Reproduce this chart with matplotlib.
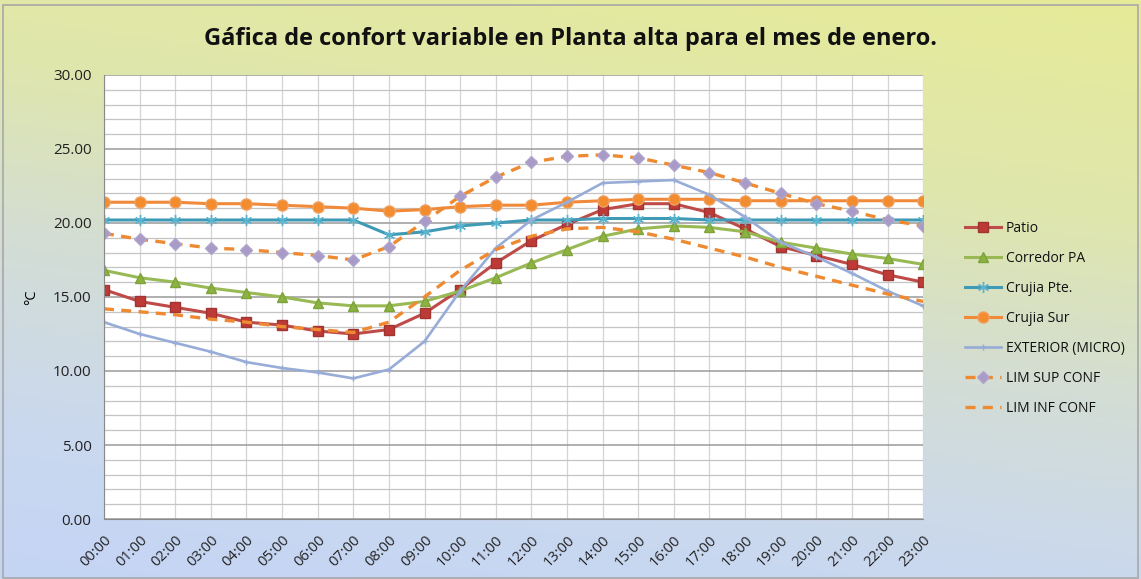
import numpy as np
import matplotlib
matplotlib.use("Agg")
import matplotlib.pyplot as plt
from matplotlib.colors import LinearSegmentedColormap
from matplotlib.patches import Rectangle

horas = ["00:00", "01:00", "02:00", "03:00", "04:00", "05:00", "06:00", "07:00",
         "08:00", "09:00", "10:00", "11:00", "12:00", "13:00", "14:00", "15:00",
         "16:00", "17:00", "18:00", "19:00", "20:00", "21:00", "22:00", "23:00"]

patio = [15.5, 14.7, 14.3, 13.9, 13.3, 13.1, 12.7, 12.5, 12.8, 13.9, 15.5, 17.3,
         18.8, 19.9, 20.9, 21.3, 21.3, 20.7, 19.6, 18.4, 17.8, 17.2, 16.5, 16.0]
corredor_pa = [16.8, 16.3, 16.0, 15.6, 15.3, 15.0, 14.6, 14.4, 14.4, 14.7, 15.4, 16.3,
               17.3, 18.2, 19.1, 19.6, 19.8, 19.7, 19.4, 18.7, 18.3, 17.9, 17.6, 17.2]
crujia_pte = [20.2, 20.2, 20.2, 20.2, 20.2, 20.2, 20.2, 20.2, 19.2, 19.4, 19.8, 20.0,
              20.2, 20.2, 20.3, 20.3, 20.3, 20.2, 20.2, 20.2, 20.2, 20.2, 20.2, 20.2]
crujia_sur = [21.4, 21.4, 21.4, 21.3, 21.3, 21.2, 21.1, 21.0, 20.8, 20.9, 21.1, 21.2,
              21.2, 21.4, 21.5, 21.6, 21.6, 21.6, 21.5, 21.5, 21.5, 21.5, 21.5, 21.5]
exterior = [13.3, 12.5, 11.9, 11.3, 10.6, 10.2, 9.9, 9.5, 10.1, 12.0, 15.4, 18.3,
            20.2, 21.4, 22.7, 22.8, 22.9, 21.9, 20.4, 18.7, 17.7, 16.6, 15.4, 14.4]
lim_sup = [19.3, 18.9, 18.6, 18.3, 18.2, 18.0, 17.8, 17.5, 18.4, 20.1, 21.8, 23.1,
           24.1, 24.5, 24.6, 24.4, 23.9, 23.4, 22.7, 22.0, 21.3, 20.8, 20.2, 19.8]
lim_inf = [14.2, 14.0, 13.8, 13.5, 13.3, 13.0, 12.8, 12.6, 13.3, 15.0, 16.8, 18.2,
           19.1, 19.6, 19.7, 19.4, 18.9, 18.3, 17.7, 17.0, 16.4, 15.8, 15.2, 14.7]

plt.rcParams['font.family'] = ['Open Sans', 'DejaVu Sans']

fig = plt.figure(figsize=(11.41, 5.79), dpi=100)

# fondo degradado (amarillo arriba, azul abajo)
bg = fig.add_axes([0, 0, 1, 1], zorder=-10)
gy, gx = np.mgrid[0:1:200j, 0:1:200j]
grad = 0.78 * gy + 0.22 * (1 - gx)
cmap = LinearSegmentedColormap.from_list(
    "fondo", [(0.0, "#e6eb98"), (0.3, "#dfe6ad"), (0.55, "#d3ddd6"), (0.8, "#cad8ef"), (1.0, "#c4d5f5")])
bg.imshow(grad, cmap=cmap, aspect='auto', extent=[0, 1, 1, 0], vmin=0, vmax=1)
bg.set_xlim(0, 1)
bg.set_ylim(1, 0)
bg.axis('off')
fig.patches.append(Rectangle((0.003, 0.002), 0.994, 0.99, transform=fig.transFigure,
                             fill=False, edgecolor="#a8a8a8", linewidth=1.2))

ax = fig.add_axes([0.0911, 0.1036, 0.718, 0.767])
ax.set_facecolor("white")
x = np.arange(len(horas))

ax.plot(x, patio, color="#be4b48", lw=2.2, marker='s', ms=7, mfc="#be3a36",
        mec="#a03431", label="Patio")
ax.plot(x, corredor_pa, color="#98b954", lw=2.2, marker='^', ms=7, mfc="#8cb340",
        mec="#7ea23c", label="Corredor PA")
ax.plot(x, crujia_pte, color="#3e9ab5", lw=2.2, marker=(6, 2, 0), ms=8, mec="#5ab4d0",
        mew=1.0, label="Crujia Pte.")
ax.plot(x, crujia_sur, color="#f08a3a", lw=2.2, marker='o', ms=8, mfc="#f28c2e",
        mec="#f0a060", label="Crujia Sur")
ax.plot(x, exterior, color="#97acd6", lw=1.9, marker='+', ms=5, mec="#97acd6",
        label="EXTERIOR (MICRO)")
ax.plot(x, lim_sup, color="#ee8a32", lw=2.4, ls=(0, (3, 2.2)), marker='D', ms=6,
        mfc="#a99bc8", mec="#b0a4cc", label="LIM SUP CONF")
ax.plot(x, lim_inf, color="#ee8a32", lw=2.4, ls=(0, (3, 2.2)), label="LIM INF CONF")

ax.set_xlim(0, len(horas) - 1)
ax.set_ylim(0, 30)
ax.set_yticks(np.arange(0, 31, 5))
ax.set_yticks(np.arange(0, 31, 1), minor=True)
ax.set_yticklabels([f"{v:.2f}" for v in np.arange(0, 31, 5)], fontsize=11, color="#222222")
ax.set_xticks(x)
ax.set_xticklabels(horas, rotation=45, ha='right', rotation_mode='anchor',
                   fontsize=10.5, color="#222222")
ax.tick_params(axis='both', which='both', length=0)
ax.tick_params(axis='y', pad=9)
ax.tick_params(axis='x', pad=10)

ax.grid(True, which='major', axis='y', color="#9a9a9a", lw=1.1)
ax.grid(True, which='minor', axis='y', color="#c4c4c4", lw=0.9)
ax.grid(True, which='major', axis='x', color="#d4d4d4", lw=0.9)
ax.set_axisbelow(True)
for s in ['top', 'right']:
    ax.spines[s].set_visible(False)
ax.spines['left'].set_color("#8a8a8a")
ax.spines['bottom'].set_color("#8a8a8a")

ax.set_ylabel("°C", fontsize=10.5, labelpad=10)

fig.text(0.5, 0.932, "Gáfica de confort variable en Planta alta para el mes de enero.",
         ha='center', va='center', fontsize=17, fontweight='bold', color="#111111")

leg = fig.legend(loc='upper left', bbox_to_anchor=(0.835, 0.64), frameon=False,
                 fontsize=10, labelspacing=1.08, handlelength=2.6, handletextpad=0.3)
for t in leg.get_texts():
    t.set_color("#111111")

fig.savefig("out.png", dpi=100)
